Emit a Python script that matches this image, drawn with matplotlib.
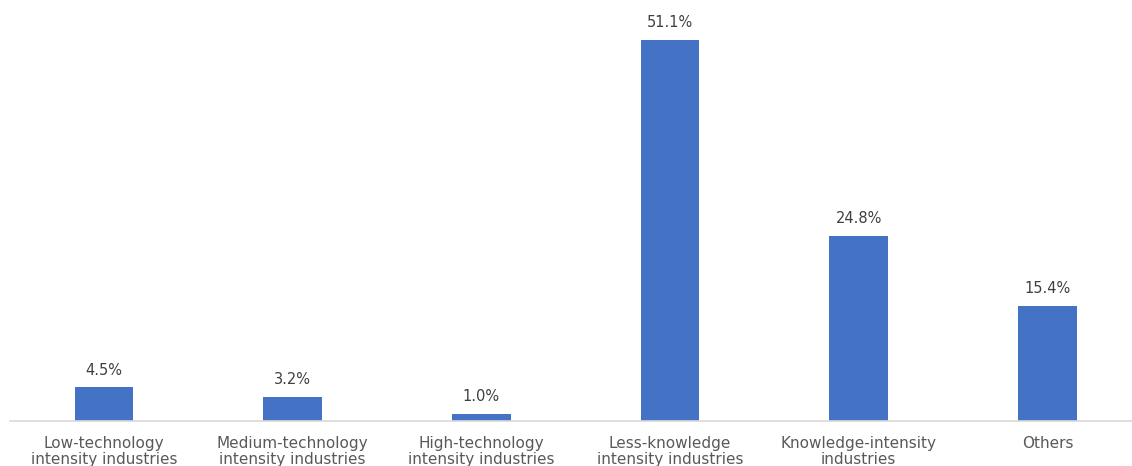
import matplotlib
matplotlib.use("Agg")
import matplotlib.pyplot as plt

categories = ["Low-technology\nintensity industries",
              "Medium-technology\nintensity industries",
              "High-technology\nintensity industries",
              "Less-knowledge\nintensity industries",
              "Knowledge-intensity\nindustries",
              "Others"]
values = [4.5, 3.2, 1.0, 51.1, 24.8, 15.4]
labels = ["4.5%", "3.2%", "1.0%", "51.1%", "24.8%", "15.4%"]

fig = plt.figure(figsize=(11.32, 4.66), dpi=100)
ax = fig.add_axes([0.0086, 0.0966, 1.0, 0.8798])
x = list(range(len(categories)))
bars = ax.bar(x, values, width=0.31, color="#4472C4")
ax.set_xlim(-0.5, 5.5)
ax.set_ylim(0, 55)
for b, lab in zip(bars, labels):
    ax.annotate(lab, (b.get_x() + b.get_width() / 2, b.get_height()),
                xytext=(0, 7), textcoords="offset points",
                ha="center", va="bottom", fontsize=10.5, color="#404040")
ax.set_xticks(x)
ax.set_xticklabels(categories, fontsize=11, color="#595959", linespacing=1.1)
ax.tick_params(axis="x", length=0, pad=11)
ax.set_yticks([])
for s in ["top", "right", "left"]:
    ax.spines[s].set_visible(False)
ax.spines["bottom"].set_color("#D9D9D9")
ax.spines["bottom"].set_linewidth(1.2)
fig.savefig("out.png", dpi=100)
